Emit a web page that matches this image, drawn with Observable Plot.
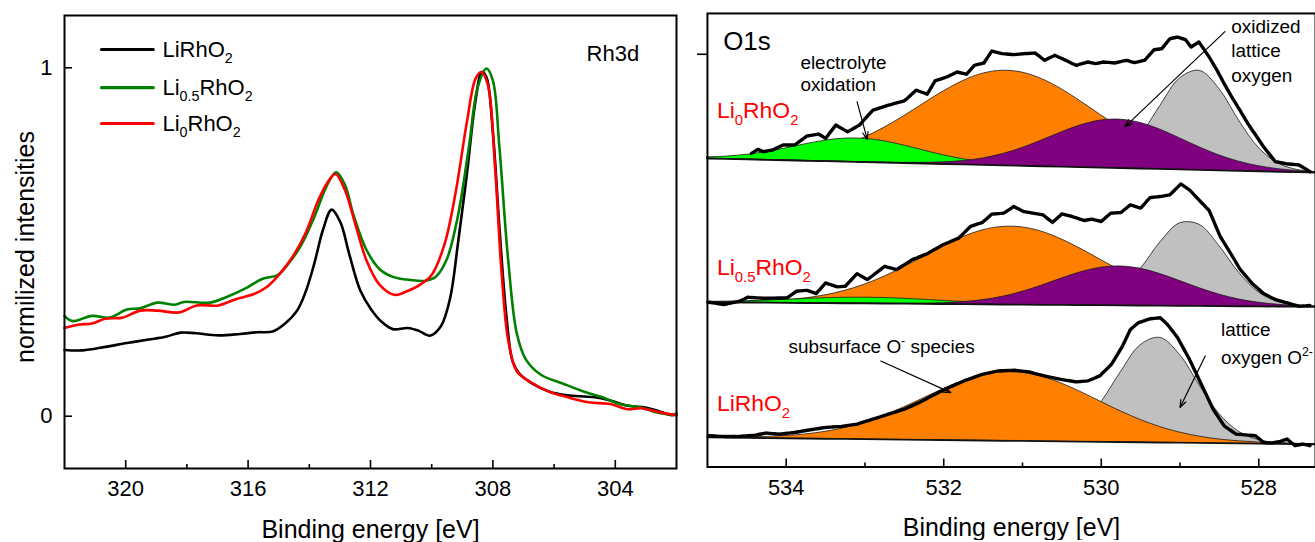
<!DOCTYPE html>
<html><head><meta charset="utf-8">
<script src="https://cdn.jsdelivr.net/npm/d3@7"></script>
<script src="https://cdn.jsdelivr.net/npm/@observablehq/plot@0.6"></script>
<style>
html,body{margin:0;padding:0;background:#fff;}
#wrap{position:relative;width:1315px;height:542px;overflow:hidden;background:#fff;}
#left,#right{position:absolute;top:0;}
#left{left:0;} #right{left:690px;}
</style></head><body>
<div id="wrap"><div id="left"></div><div id="right"></div></div>
<script>
// ---------------- Rh3d panel data ----------------
const rhTicks = [320, 316, 312, 308, 304];
const rhMinorTicks = [318, 314, 310, 306];
const rhYTicks = [0, 1];

const rhBlackE = [322, 321.4, 320.67, 319.96, 319.25, 318.7, 318.2, 317.7, 316.97, 316.26, 315.7, 315.2, 314.83, 314.4, 314.12, 313.84, 313.55, 313.27, 312.98, 312.7, 312.34, 311.99, 311.6, 311.27, 310.78, 310.42, 310.06, 309.7, 309.4, 309.14, 308.85, 308.57, 308.36, 308.21, 308.0, 307.79, 307.57, 307.36, 307.15, 306.72, 306.15, 305.58, 304.73, 304.16, 303.59, 303.02, 302.6, 302.16, 302];
const rhBlackI = [0.19, 0.189, 0.199, 0.21, 0.22, 0.228, 0.24, 0.238, 0.232, 0.236, 0.241, 0.243, 0.263, 0.303, 0.357, 0.437, 0.536, 0.593, 0.556, 0.467, 0.362, 0.308, 0.268, 0.25, 0.253, 0.245, 0.231, 0.258, 0.338, 0.497, 0.695, 0.904, 0.988, 0.973, 0.814, 0.546, 0.298, 0.159, 0.124, 0.094, 0.07, 0.06, 0.055, 0.045, 0.03, 0.025, 0.015, 0.003, 0.005];

const rhGreenE = [322, 321.74, 321.1, 320.53, 319.96, 319.53, 318.96, 318.39, 318.1, 317.25, 316.68, 316.1, 315.54, 315.04, 314.69, 314.26, 313.84, 313.41, 313.12, 312.84, 312.55, 312.13, 311.7, 311.27, 310.7, 310.2, 309.85, 309.5, 309.14, 308.78, 308.5, 308.21, 308.0, 307.79, 307.5, 307.22, 306.93, 306.43, 305.72, 305.01, 304.44, 303.87, 303.16, 302.6, 302.16, 302];
const rhGreenI = [0.288, 0.273, 0.288, 0.283, 0.306, 0.31, 0.326, 0.32, 0.328, 0.326, 0.343, 0.366, 0.394, 0.405, 0.437, 0.492, 0.571, 0.665, 0.7, 0.665, 0.576, 0.477, 0.422, 0.4, 0.391, 0.389, 0.402, 0.452, 0.576, 0.775, 0.943, 0.998, 0.963, 0.775, 0.447, 0.238, 0.164, 0.119, 0.094, 0.07, 0.055, 0.035, 0.025, 0.01, 0.005, 0.008];

const rhRedE = [322, 321.52, 321.1, 320.67, 320.1, 319.53, 318.96, 318.25, 317.68, 316.97, 316.4, 315.83, 315.4, 314.98, 314.55, 314.12, 313.7, 313.41, 313.15, 312.84, 312.48, 312.13, 311.7, 311.2, 310.85, 310.35, 309.99, 309.57, 309.21, 308.85, 308.57, 308.38, 308.17, 307.93, 307.72, 307.5, 307.22, 306.79, 306.15, 305.58, 304.87, 304.16, 303.59, 303.16, 302.6, 302];
const rhRedI = [0.253, 0.263, 0.266, 0.28, 0.283, 0.303, 0.303, 0.298, 0.318, 0.318, 0.336, 0.35, 0.37, 0.407, 0.457, 0.526, 0.621, 0.67, 0.695, 0.65, 0.546, 0.447, 0.377, 0.348, 0.357, 0.379, 0.407, 0.497, 0.646, 0.844, 0.968, 0.988, 0.953, 0.715, 0.417, 0.218, 0.129, 0.099, 0.07, 0.055, 0.04, 0.035, 0.02, 0.023, 0.012, 0.003];

const rhSeriesNames = ["LiRhO_{2}", "Li_{0.5}RhO_{2}", "Li_{0}RhO_{2}"];
const rhSeriesColors = ["#000000", "#008000", "#ff0000"];

// ---------------- O1s panel data ----------------
const o1sTicks = [534, 532, 530, 528];
const o1sMinorTicks = [533, 531, 529];
const o1sYTicks = [91];

// shared energy grid for fitted components
const o1sGrid = [535, 534.75, 534.5, 534.25, 534, 533.75, 533.5, 533.25, 533, 532.75, 532.5, 532.25, 532, 531.75, 531.5, 531.25, 531, 530.75, 530.5, 530.25, 530, 529.75, 529.5, 529.25, 529, 528.75, 528.5, 528.25, 528, 527.75, 527.5, 527.25];

// Li0RhO2 (top, offset)
const topBg = [68.0, 67.9, 67.8, 67.7, 67.6, 67.5, 67.4, 67.3, 67.19, 67.09, 66.99, 66.89, 66.79, 66.69, 66.59, 66.49, 66.39, 66.29, 66.19, 66.09, 65.99, 65.89, 65.79, 65.69, 65.58, 65.48, 65.38, 65.28, 65.18, 65.08, 64.98, 64.88];
const topGreen = [0.27, 0.55, 1.04, 1.75, 2.67, 3.68, 4.56, 5.11, 5.16, 4.70, 3.87, 2.87, 1.92, 1.16, 0.63, 0.31, 0.14, 0.06, 0.02, 0, 0, 0, 0, 0, 0, 0, 0, 0, 0, 0, 0, 0];
const topOrange = [0.05, 0.11, 0.23, 0.45, 0.82, 1.42, 2.35, 3.68, 5.48, 7.74, 10.40, 13.25, 16.04, 18.44, 20.14, 20.88, 20.56, 19.22, 17.07, 14.39, 11.53, 8.77, 6.33, 4.34, 2.83, 1.75, 1.03, 0.57, 0.30, 0.15, 0.07, 0.03];
const topPurple = [0, 0, 0, 0, 0, 0, 0, 0, 0.01, 0.03, 0.07, 0.17, 0.38, 0.77, 1.45, 2.50, 3.95, 5.73, 7.62, 9.30, 10.41, 10.68, 10.05, 8.68, 6.87, 4.99, 3.32, 2.03, 1.14, 0.58, 0.28, 0.12];
const topGray = [0, 0, 0, 0, 0, 0, 0, 0, 0, 0, 0, 0, 0, 0, 0, 0, 0, 0, 0.03, 0.19, 0.85, 2.85, 7.26, 13.91, 20.10, 21.87, 17.95, 11.09, 5.17, 1.82, 0.48, 0.10];
const topMeasE = [534.44, 534.36, 534.29, 534.17, 534.04, 533.89, 533.74, 533.59, 533.5, 533.37, 533.22, 533.07, 532.9, 532.7, 532.5, 532.35, 532.21, 532.11, 531.96, 531.83, 531.71, 531.61, 531.49, 531.39, 531.26, 531.11, 530.97, 530.84, 530.72, 530.59, 530.47, 530.32, 530.17, 530.07, 529.97, 529.83, 529.68, 529.58, 529.45, 529.33, 529.23, 529.13, 529.03, 528.93, 528.86, 528.76, 528.63, 528.53, 528.44, 528.34, 528.24, 528.14, 528.04, 527.94, 527.79, 527.64, 527.49, 527.35];
const topMeasI = [69.16, 70.04, 69.52, 69.9, 71.0, 71.0, 72.97, 73.41, 72.46, 75.39, 73.9, 75.39, 78.68, 79.78, 80.73, 83.08, 82.2, 85.13, 86.0, 87.1, 86.6, 88.57, 89.08, 91.72, 91.14, 90.92, 91.14, 91.28, 89.67, 90.77, 89.82, 88.57, 89.3, 88.94, 89.3, 89.08, 89.67, 89.16, 89.67, 92.0, 92.24, 94.43, 94.8, 94.21, 92.6, 93.7, 90.4, 87.47, 84.54, 81.47, 78.68, 75.75, 73.19, 70.62, 67.33, 66.82, 66.6, 65.13];

// Li0.5RhO2 (middle, offset)
const midBg = [36.3, 36.27, 36.24, 36.2, 36.17, 36.14, 36.11, 36.07, 36.04, 36.01, 35.98, 35.94, 35.91, 35.88, 35.85, 35.81, 35.78, 35.75, 35.72, 35.68, 35.65, 35.62, 35.59, 35.55, 35.52, 35.49, 35.46, 35.42, 35.39, 35.36, 35.33, 35.29];
const midGreen = [0.11, 0.20, 0.32, 0.50, 0.70, 0.92, 1.11, 1.25, 1.30, 1.25, 1.11, 0.92, 0.70, 0.50, 0.32, 0.20, 0.11, 0.06, 0.03, 0, 0, 0, 0, 0, 0, 0, 0, 0, 0, 0, 0, 0];
const midOrange = [0.04, 0.08, 0.17, 0.32, 0.60, 1.05, 1.75, 2.78, 4.18, 5.97, 8.10, 10.43, 12.76, 14.82, 16.35, 17.13, 17.04, 16.10, 14.44, 12.31, 9.96, 7.65, 5.58, 3.87, 2.55, 1.59, 0.94, 0.53, 0.29, 0.14, 0.07, 0.03];
const midPurple = [0, 0, 0, 0, 0, 0, 0, 0, 0, 0.01, 0.04, 0.09, 0.22, 0.48, 0.95, 1.72, 2.84, 4.27, 5.85, 7.30, 8.30, 8.59, 8.11, 6.98, 5.47, 3.91, 2.54, 1.51, 0.82, 0.40, 0.18, 0.07];
const midGray = [0, 0, 0, 0, 0, 0, 0, 0, 0, 0, 0, 0, 0, 0, 0, 0, 0, 0.01, 0.05, 0.28, 1.15, 3.51, 8.06, 13.95, 18.20, 17.89, 13.25, 7.40, 3.11, 0.99, 0.24, 0.04];
const midMeasE = [534.98, 534.79, 534.59, 534.49, 534.29, 533.99, 533.87, 533.74, 533.62, 533.5, 533.35, 533.25, 533.1, 532.97, 532.75, 532.6, 532.4, 532.21, 532.01, 531.81, 531.66, 531.51, 531.39, 531.24, 531.11, 530.99, 530.87, 530.74, 530.62, 530.5, 530.37, 530.22, 530.12, 530.0, 529.88, 529.75, 529.63, 529.5, 529.38, 529.25, 529.13, 528.99, 528.88, 528.78, 528.63, 528.49, 528.36, 528.24, 528.09, 527.94, 527.79, 527.64, 527.49, 527.35];
const midMeasI = [36.33, 35.82, 36.55, 37.43, 37.21, 37.28, 38.75, 38.97, 38.24, 40.58, 39.7, 39.85, 42.63, 41.31, 44.25, 43.51, 45.71, 47.03, 49.01, 50.47, 53.04, 53.92, 55.75, 55.97, 57.43, 56.33, 55.97, 55.6, 53.92, 55.82, 55.23, 54.36, 54.65, 54.13, 55.97, 56.11, 57.8, 57.07, 59.41, 59.63, 59.99, 62.41, 61.09, 59.26, 56.55, 50.84, 47.17, 43.66, 40.58, 38.24, 36.92, 36.19, 35.45, 35.6];

// LiRhO2 (bottom)
const botBg = [6.5, 6.45, 6.4, 6.35, 6.31, 6.26, 6.21, 6.16, 6.11, 6.06, 6.01, 5.96, 5.92, 5.87, 5.82, 5.77, 5.72, 5.67, 5.62, 5.57, 5.53, 5.48, 5.43, 5.38, 5.33, 5.28, 5.23, 5.19, 5.14, 5.09, 5.04, 4.99];
const botOrange = [0.03, 0.07, 0.15, 0.29, 0.53, 0.93, 1.55, 2.46, 3.70, 5.28, 7.16, 9.22, 11.28, 13.10, 14.45, 15.14, 15.06, 14.23, 12.76, 10.88, 8.80, 6.76, 4.94, 3.42, 2.25, 1.41, 0.83, 0.47, 0.25, 0.13, 0.06, 0.03];
const botGray = [0, 0, 0, 0, 0, 0, 0, 0, 0, 0, 0, 0, 0, 0, 0, 0.01, 0.07, 0.35, 1.30, 3.82, 8.71, 15.47, 21.42, 23.08, 19.38, 12.67, 6.45, 2.56, 0.79, 0.19, 0.04, 0];
const botMeasE = [534.98, 534.79, 534.59, 534.39, 534.26, 534.09, 533.89, 533.69, 533.5, 533.3, 533.1, 532.9, 532.7, 532.5, 532.31, 532.11, 531.91, 531.71, 531.51, 531.31, 531.1, 530.92, 530.72, 530.52, 530.32, 530.17, 530.02, 529.87, 529.73, 529.63, 529.53, 529.38, 529.25, 529.16, 529.03, 528.88, 528.73, 528.58, 528.44, 528.29, 528.14, 528.04, 527.94, 527.84, 527.74, 527.64, 527.54, 527.44, 527.35];
const botMeasI = [6.89, 6.74, 6.74, 7.04, 7.48, 7.26, 7.62, 8.21, 8.72, 8.94, 9.46, 10.55, 11.65, 12.75, 14.22, 16.05, 17.73, 19.2, 20.44, 21.18, 21.32, 20.96, 20.08, 19.35, 18.76, 18.98, 20.08, 22.64, 26.67, 30.33, 31.8, 32.68, 32.9, 31.43, 28.5, 23.74, 18.25, 12.75, 9.09, 7.26, 7.04, 6.89, 5.43, 5.28, 5.57, 6.16, 4.7, 5.06, 4.7];

const compColors = {gray: "#c0c0c0", orange: "#ff8000", green: "#00ff00", purple: "#800080"};

// annotations (data coordinates)
const o1sLabels = [
  {E: 534.8, v: 91.9, text: "O1s", size: 26, color: "#000"},
  {E: 533.82, v: 87.76, text: "electrolyte", size: 19, color: "#000"},
  {E: 533.82, v: 82.92, text: "oxidation", size: 19, color: "#000"},
  {E: 528.35, v: 95.8, text: "oxidized", size: 19, color: "#000"},
  {E: 528.35, v: 90.4, text: "lattice", size: 19, color: "#000"},
  {E: 528.35, v: 84.9, text: "oxygen", size: 19, color: "#000"},
  {E: 533.97, v: 25.2, text: "subsurface O^{-} species", size: 19, color: "#000"},
  {E: 528.48, v: 28.86, text: "lattice", size: 19, color: "#000"},
  {E: 528.48, v: 22.8, text: "oxygen O^{2-}", size: 19, color: "#000"},
  {E: 534.88, v: 76.86, text: "Li_{0}RhO_{2}", size: 23, color: "#ff0000"},
  {E: 534.88, v: 42.4, text: "Li_{0.5}RhO_{2}", size: 23, color: "#ff0000"},
  {E: 534.88, v: 12.4, text: "LiRhO_{2}", size: 23, color: "#ff0000"}
];
const o1sArrows = [
  {x1: 533.1, y1: 80.5, x2: 532.97, y2: 72.2},
  {x1: 528.43, y1: 96.0, x2: 529.7, y2: 75.0},
  {x1: 532.8, y1: 23.36, x2: 531.91, y2: 16.4},
  {x1: 528.68, y1: 24.46, x2: 529.0, y2: 13.1}
];

// legend layout for the Rh3d panel
const legendLineX = [320.79, 319.1];
const legendTextX = 318.8;
const legendRowY = [1.0525, 0.943, 0.84];

// ---------------- helpers ----------------
const FONT = "'Liberation Sans', Arial, Helvetica, sans-serif";
const pts = (E, I) => E.map((e, i) => ({E: e, I: I[i]}));
const comp = (bg, h) => o1sGrid.map((e, i) => ({E: e, y1: bg[i], y2: bg[i] + h[i]}));
const bgPts = (bg) => o1sGrid.map((e, i) => ({E: e, I: bg[i]}));

function richText(svg) {
  const NS = "http://www.w3.org/2000/svg";
  svg.querySelectorAll("text").forEach(t => {
    const s = t.textContent;
    if (!/[_^]\{/.test(s)) return;
    const fs = parseFloat(getComputedStyle(t).fontSize) || 20;
    const re = /([_^])\{([^}]*)\}|([^_^]+)/g;
    let m, shift = 0;
    while (t.firstChild) t.removeChild(t.firstChild);
    while ((m = re.exec(s)) !== null) {
      const ts = document.createElementNS(NS, "tspan");
      let target = 0, txt;
      if (m[1]) {
        txt = m[2];
        ts.setAttribute("font-size", (fs * 0.65).toFixed(2));
        target = m[1] === "_" ? fs * 0.3 : -fs * 0.42;
      } else txt = m[3];
      ts.setAttribute("dy", (target - shift).toFixed(2));
      shift = target;
      ts.textContent = txt;
      t.appendChild(ts);
    }
  });
}

// ---------------- Rh3d plot ----------------
const rhSeries = [pts(rhBlackE, rhBlackI), pts(rhGreenE, rhGreenI), pts(rhRedE, rhRedI)];
const legendData = rhSeriesNames.map((n, i) => ({name: n, color: rhSeriesColors[i], y: legendRowY[i]}));

const left = Plot.plot({
  width: 690, height: 542,
  marginLeft: 64, marginRight: 14, marginTop: 15, marginBottom: 74,
  style: {fontFamily: FONT, fontSize: "22px", color: "#000", background: "#fff"},
  x: {domain: [322, 302]},
  y: {domain: [-0.15, 1.15]},
  marks: [
    ...rhSeries.map((d, i) => Plot.line(d, {x: "E", y: "I", stroke: rhSeriesColors[i], strokeWidth: 2.6, curve: "catmull-rom"})),
    // legend
    ...legendData.map(d => Plot.line(legendLineX.map(x => ({x, y: d.y})), {x: "x", y: "y", stroke: d.color, strokeWidth: 3.2})),
    Plot.text(legendData, {x: () => legendTextX, y: "y", text: "name", textAnchor: "start", lineAnchor: "middle", fontSize: 22, fill: "#000"}),
    Plot.text(["Rh3d"], {x: () => 304.94, y: () => 1.0194, text: d => d, textAnchor: "start", lineAnchor: "bottom", fontSize: 22}),
    // ticks inward
    Plot.tickX(rhTicks, {x: d => d, insetTop: 445, stroke: "#000", strokeWidth: 1.6}),
    Plot.tickX(rhMinorTicks, {x: d => d, insetTop: 449, stroke: "#000", strokeWidth: 1.6}),
    Plot.tickY(rhYTicks, {y: d => d, insetRight: 604, stroke: "#000", strokeWidth: 1.6}),
    Plot.axisX(rhTicks, {tickSize: 0, tickPadding: 12, label: null, fontSize: 22, tickFormat: d => String(d)}),
    Plot.axisY(rhYTicks, {tickSize: 0, tickPadding: 12, label: null, fontSize: 22, tickFormat: d => String(d)}),
    Plot.text(["Binding energy [eV]"], {frameAnchor: "bottom", text: d => d, dy: 69, lineAnchor: "bottom", textAnchor: "middle", fontSize: 25}),
    Plot.text(["normilized intensities"], {frameAnchor: "left", text: d => d, rotate: -90, dx: -39, dy: 5, textAnchor: "middle", lineAnchor: "middle", fontSize: 25}),
    Plot.frame({stroke: "#000", strokeWidth: 2})
  ]
});
document.getElementById("left").appendChild(left);
richText(left);

// ---------------- O1s plot ----------------
const spectra = [
  {bg: topBg, comps: [["gray", topGray], ["orange", topOrange], ["green", topGreen], ["purple", topPurple]], meas: pts(topMeasE, topMeasI)},
  {bg: midBg, comps: [["gray", midGray], ["orange", midOrange], ["green", midGreen], ["purple", midPurple]], meas: pts(midMeasE, midMeasI)},
  {bg: botBg, comps: [["gray", botGray], ["orange", botOrange]], meas: pts(botMeasE, botMeasI)}
];

const o1sMarks = [];
for (const s of spectra) {
  for (const [name, h] of s.comps) {
    o1sMarks.push(Plot.areaY(comp(s.bg, h), {x: "E", y1: "y1", y2: "y2", fill: compColors[name], stroke: "#1a1a1a", strokeWidth: 0.8, curve: "catmull-rom"}));
  }
  o1sMarks.push(Plot.line(bgPts(s.bg), {x: "E", y: "I", stroke: "#111", strokeWidth: 1.6}));
}
for (const s of spectra) {
  o1sMarks.push(Plot.line(s.meas, {x: "E", y: "I", stroke: "#000", strokeWidth: 3.4, strokeDasharray: "6,1.3"}));
}

const right = Plot.plot({
  width: 627, height: 542,
  marginLeft: 17, marginRight: 0, marginTop: 13, marginBottom: 74,
  style: {fontFamily: FONT, fontSize: "22px", color: "#000", background: "#fff", overflow: "hidden"},
  x: {domain: [535, 527.28]},
  y: {domain: [0, 100]},
  marks: [
    ...o1sMarks,
    Plot.arrow(o1sArrows, {x1: "x1", y1: "y1", x2: "x2", y2: "y2", stroke: "#000", strokeWidth: 1.2, headLength: 10, headAngle: 40}),
    ...o1sLabels.map(d => Plot.text([d], {x: "E", y: "v", text: "text", textAnchor: "start", lineAnchor: "bottom", fontSize: d.size, fill: d.color})),
    Plot.tickX(o1sTicks, {x: d => d, insetTop: 447, stroke: "#000", strokeWidth: 1.6}),
    Plot.tickX(o1sMinorTicks, {x: d => d, insetTop: 451, stroke: "#000", strokeWidth: 1.6}),
    Plot.axisX(o1sTicks, {tickSize: 0, tickPadding: 12, label: null, fontSize: 22, tickFormat: d => String(d)}),
    Plot.axisY(o1sYTicks, {tickSize: 10, label: null, tickFormat: () => "", strokeWidth: 1.6}),
    Plot.text(["Binding energy [eV]"], {frameAnchor: "bottom", text: d => d, dy: 69, lineAnchor: "bottom", textAnchor: "middle", fontSize: 25}),
    Plot.frame({stroke: "#000", strokeWidth: 2})
  ]
});
document.getElementById("right").appendChild(right);
richText(right);
</script></body></html>
